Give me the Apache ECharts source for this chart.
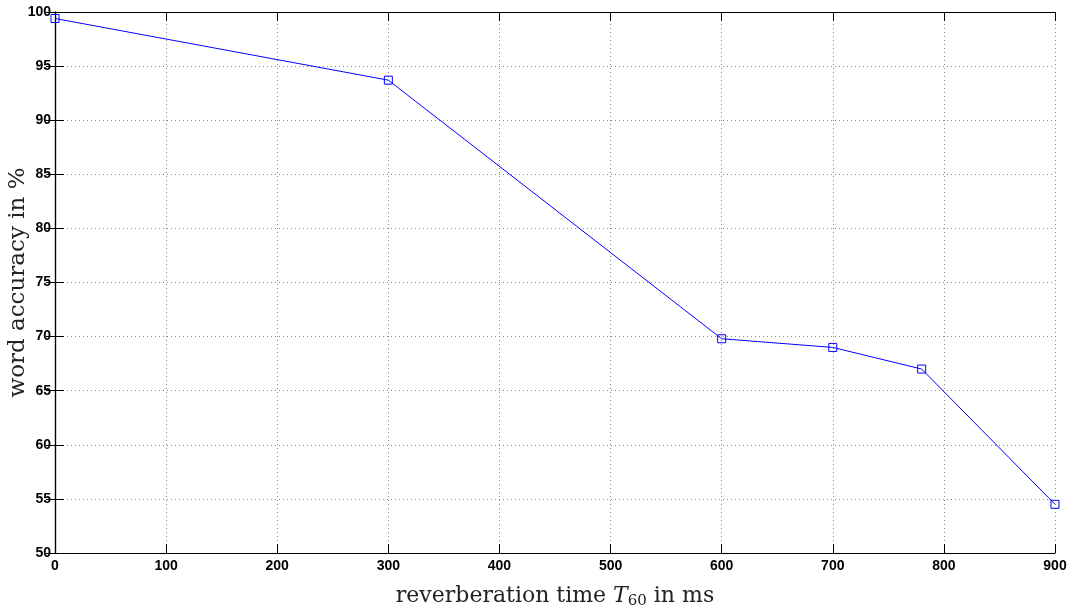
<head>
    <meta charset="utf-8">
    <title>word accuracy</title>
    <script src="https://cdn.jsdelivr.net/npm/echarts@6/dist/echarts.min.js"></script>
</head>

<body style="margin:0">
    <div id="main" style="width: 1075px; height:615px;"></div>

    <script type="text/javascript">
        // reverberation time T60 (ms) and word accuracy (%)
        const t60 = [0, 300, 600, 700, 780, 900]
        const accuracy = [99.4, 93.7, 69.8, 69.0, 67.0, 54.5]

        const tickFont = {
            fontFamily: 'Liberation Sans Narrow, Liberation Sans, Arial',
            fontWeight: 'bold',
            fontSize: 14,
            color: '#000'
        }
        const serif = 'DejaVu Serif, Liberation Serif'
        const black = { lineStyle: { color: '#000', width: 1.2 } }
        const grid = { show: true, lineStyle: { color: '#8a8a8a', type: [1, 3], width: 1 } }
        const ticks = { inside: true, length: 9, lineStyle: { color: '#000' } }

        var myChart = echarts.init(document.getElementById('main'));

        option = {
            animation: false,
            grid: {
                left: 55,
                right: 20,
                top: 12,
                height: 541,
                outerBoundsMode: 'none',
                containLabel: false
            },
            xAxis: [
                {
                    type: 'value',
                    min: 0,
                    max: 900,
                    interval: 100,
                    name: '{a|reverberation time }{i|T}{s|60}{a| in ms}',
                    nameLocation: 'middle',
                    nameGap: 31,
                    nameMoveOverlap: false,
                    nameTextStyle: {
                        rich: {
                            a: { fontFamily: serif, fontSize: 22, color: '#222' },
                            i: { fontFamily: serif, fontSize: 22, fontStyle: 'italic', color: '#222' },
                            s: { fontFamily: serif, fontSize: 15, color: '#222', verticalAlign: 'bottom', padding: [10, 0, 0, 0] }
                        }
                    },
                    axisLine: black,
                    axisTick: ticks,
                    axisLabel: Object.assign({ margin: 6 }, tickFont),
                    splitLine: grid
                },
                {
                    type: 'value',
                    position: 'top',
                    min: 0,
                    max: 900,
                    interval: 100,
                    axisLine: black,
                    axisTick: ticks,
                    axisLabel: { show: false },
                    splitLine: { show: false }
                }
            ],
            yAxis: [
                {
                    type: 'value',
                    min: 50,
                    max: 100,
                    interval: 5,
                    name: 'word accuracy in %',
                    nameLocation: 'middle',
                    nameGap: 25,
                    nameMoveOverlap: false,
                    nameTextStyle: { fontFamily: serif, fontSize: 23, color: '#222' },
                    axisLine: black,
                    axisTick: ticks,
                    axisLabel: Object.assign({ margin: 4 }, tickFont),
                    splitLine: grid
                },
                {
                    type: 'value',
                    position: 'right',
                    min: 50,
                    max: 100,
                    interval: 5,
                    axisLine: black,
                    axisTick: ticks,
                    axisLabel: { show: false },
                    splitLine: { show: false }
                }
            ],
            series: [
                {
                    type: 'line',
                    data: t60.map((t, i) => [t, accuracy[i]]),
                    clip: false,
                    symbol: 'rect',
                    symbolSize: 8,
                    itemStyle: { color: 'transparent', borderColor: '#0000ff', borderWidth: 1 },
                    lineStyle: { color: '#0000ff', width: 1 }
                }
            ]
        };

        myChart.setOption(option);
    </script>
</body>
